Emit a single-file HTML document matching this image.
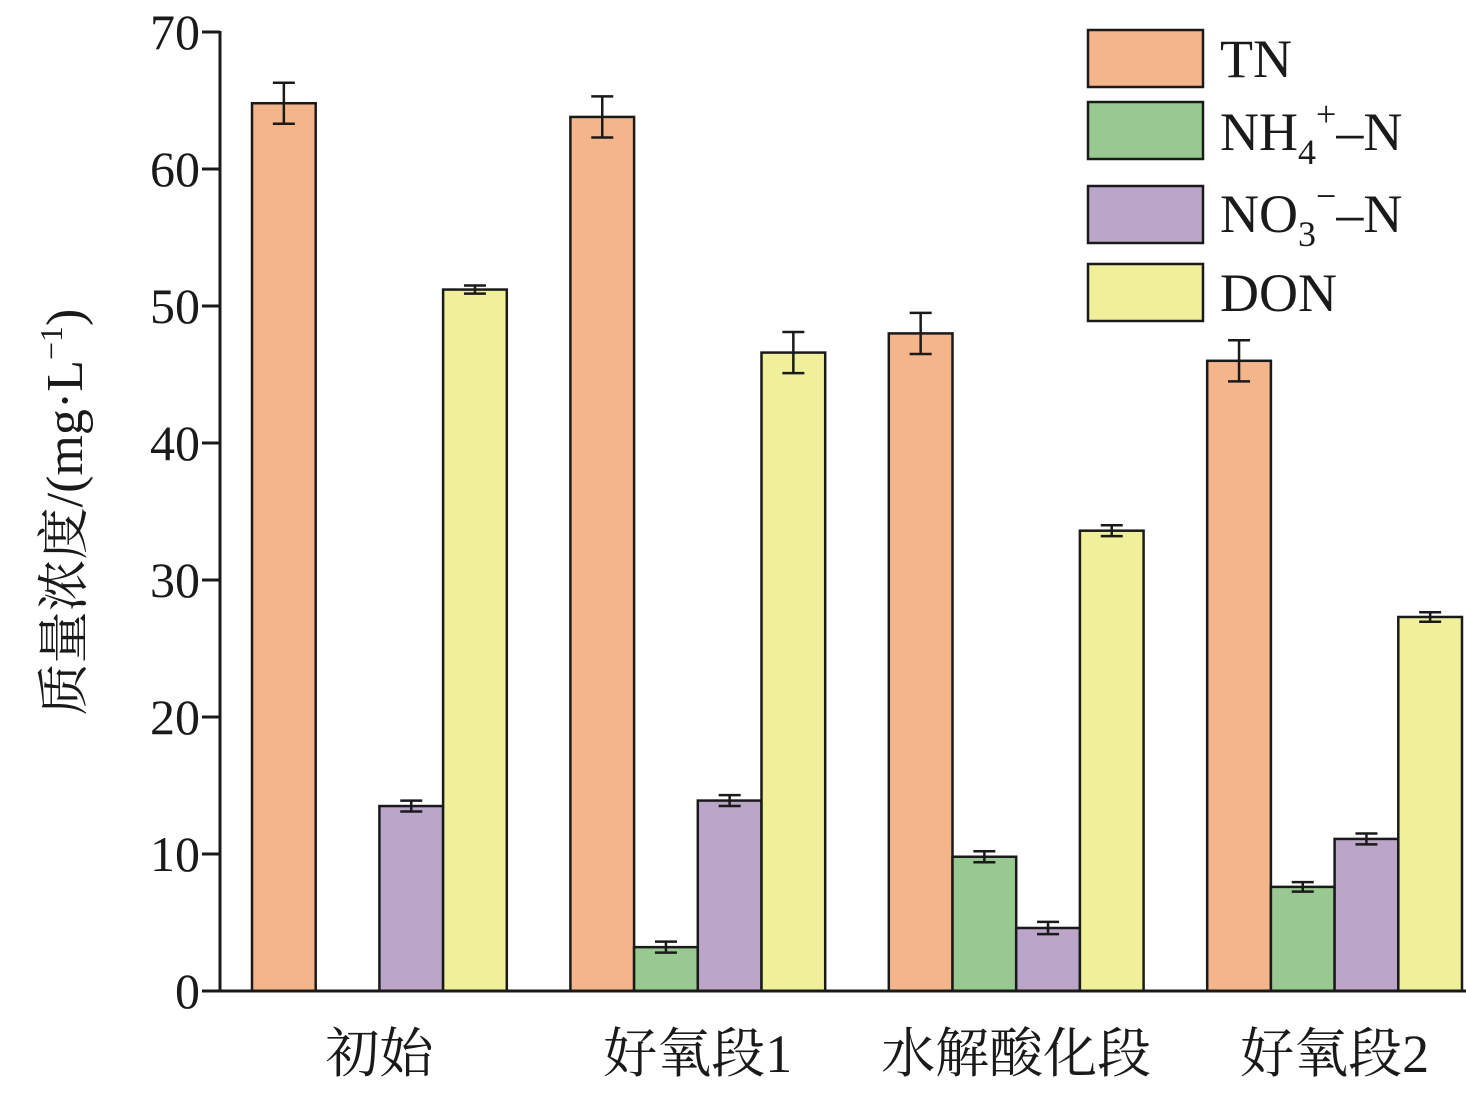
<!DOCTYPE html>
<html><head><meta charset="utf-8"><style>
html,body{margin:0;padding:0;background:#fff;}
svg{display:block;font-family:"Liberation Serif","Noto Serif CJK SC",serif;}
</style></head><body>
<svg id="chart" width="1466" height="1094" viewBox="0 0 1466 1094" xmlns="http://www.w3.org/2000/svg"></svg>
<script>
const categories = ["初始","好氧段1","水解酸化段","好氧段2"];
const seriesNames = ["TN","NH4","NO3","DON"];
const tnValues = [64.8, 63.8, 48.0, 46.0];
const nh4Values = [0, 3.2, 9.8, 7.6];
const no3Values = [13.5, 13.9, 4.6, 11.1];
const donValues = [51.2, 46.6, 33.6, 27.3];
const tnErr = [1.5, 1.5, 1.5, 1.5];
const nh4Err = [0, 0.4, 0.4, 0.35];
const no3Err = [0.4, 0.4, 0.45, 0.4];
const donErr = [0.3, 1.5, 0.4, 0.35];
const yTicks = [0,10,20,30,40,50,60,70];

const NS="http://www.w3.org/2000/svg";
const svg=document.getElementById('chart');
const x0=220, y0=991, yTop=32, yMax=70;
const yScale=v=>y0-(v/yMax)*(y0-yTop);
const groupStart=i=>252+i*318.4;
const barW=63.7;
const colors=["#f5b58b","#98c990","#bba5c8","#f0f09a"];
const values=[tnValues,nh4Values,no3Values,donValues];
const errs=[tnErr,nh4Err,no3Err,donErr];
function mk(tag,attrs,parent){const e=document.createElementNS(NS,tag);for(const k in attrs)e.setAttribute(k,attrs[k]);(parent||svg).appendChild(e);return e;}

// bars
values.forEach((vals,s)=>{
  vals.forEach((v,i)=>{
    if(v<=0) return;
    const x=groupStart(i)+s*barW;
    const r=mk('rect',{x:x,y:yScale(v),width:barW,height:y0-yScale(v),fill:colors[s],stroke:"#1a1a1a","stroke-width":2.5});
    
    
    const e=errs[s][i];
    if(e>0){
      const cx=x+barW/2;
      const g=mk('g',{stroke:"#1a1a1a","stroke-width":2.5});
      
      
      mk('line',{x1:cx,x2:cx,y1:yScale(v+e),y2:yScale(v-e)},g);
      mk('line',{x1:cx-11,x2:cx+11,y1:yScale(v+e),y2:yScale(v+e)},g);
      mk('line',{x1:cx-11,x2:cx+11,y1:yScale(v-e),y2:yScale(v-e)},g);
    }
  });
});

// axes
const ax=mk('g',{stroke:"#1a1a1a","stroke-width":3});


mk('line',{x1:x0,x2:x0,y1:yTop-1,y2:y0},ax);
mk('line',{x1:x0,x2:1466,y1:y0,y2:y0},ax);
yTicks.forEach(t=>{
  const y=yScale(t);
  mk('line',{x1:x0-18,x2:x0,y1:y,y2:y},ax);
  const tx=mk('text',{x:200,y:y+17,"text-anchor":"end","font-size":50,fill:"#1a1a1a"});
  tx.textContent=t;
  
  
});
categories.forEach((c,i)=>{
  const tx=mk('text',{x:groupStart(i)+2*barW,y:1072,"text-anchor":"middle","font-size":54,fill:"#1a1a1a"});
  tx.textContent=c;
  
  
});
</script>
<svg style="position:absolute;left:0;top:0" width="1466" height="1094" xmlns="http://www.w3.org/2000/svg">
<text transform="translate(82,512) rotate(-90)" text-anchor="middle" font-size="52" fill="#1a1a1a" font-family="Liberation Serif, Noto Serif CJK SC, serif">质量浓度/(mg·L<tspan font-size="32" dy="-20">−1</tspan><tspan dy="20">)</tspan></text>
<g stroke="#1a1a1a" stroke-width="2.5" font-family="Liberation Serif, serif" font-size="54" fill="#1a1a1a">
<rect x="1088" y="30" width="115" height="57" fill="#f5b58b"/>
<rect x="1088" y="102" width="115" height="57" fill="#98c990"/>
<rect x="1088" y="186" width="115" height="57" fill="#bba5c8"/>
<rect x="1088" y="264" width="115" height="57" fill="#f0f09a"/>
<g stroke="none" fill="#1a1a1a">
<text x="1220" y="77">TN</text>
<text x="1220" y="150">NH<tspan font-size="36" dy="14">4</tspan><tspan font-size="36" dy="-38">+</tspan><tspan dy="24">–N</tspan></text>
<text x="1220" y="232">NO<tspan font-size="36" dy="14">3</tspan><tspan font-size="36" dy="-38">−</tspan><tspan dy="24">–N</tspan></text>
<text x="1220" y="311">DON</text>
</g></g>
</svg>
</body></html>
